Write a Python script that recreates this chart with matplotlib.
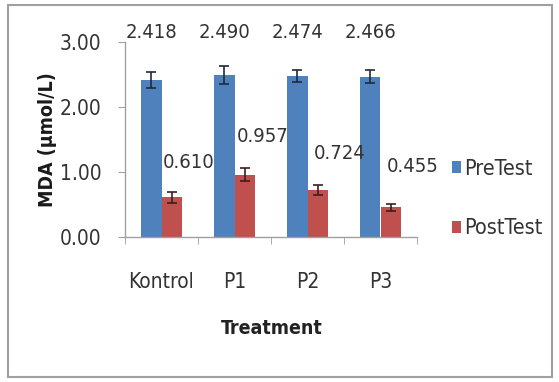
import matplotlib
matplotlib.use("Agg")
import matplotlib.pyplot as plt
import numpy as np
from matplotlib.patches import Rectangle

categories = ["Kontrol", "P1", "P2", "P3"]
pretest = [2.418, 2.490, 2.474, 2.466]
posttest = [0.610, 0.957, 0.724, 0.455]
pre_err = [0.12, 0.14, 0.09, 0.10]
post_err = [0.08, 0.10, 0.08, 0.06]
pre_labels = ["2.418", "2.490", "2.474", "2.466"]
post_labels = ["0.610", "0.957", "0.724", "0.455"]
yticks = [0.0, 1.0, 2.0, 3.0]
ytick_labels = ["0.00", "1.00", "2.00", "3.00"]

plt.rcParams["font.family"] = ["DejaVu Sans"]
plt.rcParams["font.stretch"] = "condensed"

fig = plt.figure(figsize=(5.59, 3.82), dpi=100)
fig.patch.set_facecolor("white")
fig.patches.append(Rectangle((8/559, 1-377/382), (552-8)/559, (377-5)/382,
                             transform=fig.transFigure, fill=False,
                             edgecolor="#a0a0a0", linewidth=1.5))

ax = fig.add_axes([125/559, 1-237/382, (417-125)/559, (237-42)/382])
x = np.arange(len(categories))
w = 0.28
blue = "#4F81BD"
red = "#C0504D"
ax.bar(x - w/2, pretest, w, color=blue, yerr=pre_err, capsize=3.5,
       error_kw=dict(ecolor="#1f2a3a", elinewidth=1.2, capthick=1.2), label="PreTest")
ax.bar(x + w/2, posttest, w, color=red, yerr=post_err, capsize=3.5,
       error_kw=dict(ecolor="#3a1f1f", elinewidth=1.2, capthick=1.2), label="PostTest")

ax.set_xlim(-0.5, 3.5)
ax.set_ylim(0, 3.0)
ax.set_yticks(yticks)
ax.set_yticklabels(ytick_labels)
ax.set_xticks(x)
ax.set_xticklabels(categories)
ax.set_xticks(np.arange(-0.5, 4.0, 1.0), minor=True)
ax.tick_params(axis="x", which="major", length=0, pad=25, labelsize=15, colors="#333333")
ax.tick_params(axis="x", which="minor", length=5, color="#a0a0a0", direction="out")
ax.tick_params(axis="y", length=5, color="#a0a0a0", pad=12, labelsize=15, labelcolor="#333333")
for s in ["top", "right"]:
    ax.spines[s].set_visible(False)
for s in ["left", "bottom"]:
    ax.spines[s].set_color("#a0a0a0")
    ax.spines[s].set_linewidth(1.0)

for i, v in enumerate(pretest):
    ax.text(i - w/2, 3.15, pre_labels[i], ha="center", va="center", fontsize=14.5,
            color="#333333", clip_on=False)
post_label_offsets = [(0.23, 1.14), (0.25, 1.54), (0.30, 1.29), (0.30, 1.08)]
for i, v in enumerate(posttest):
    dx, yy = post_label_offsets[i]
    ax.text(i + w/2 + dx, yy, post_labels[i], ha="center", va="center", fontsize=14.5,
            color="#333333", clip_on=False)

ax.set_ylabel("MDA (μmol/L)", fontsize=14, fontweight="bold", color="#1a1a1a")
ax.yaxis.set_label_coords(-0.232, 0.5)
ax.set_xlabel("Treatment", fontsize=14, fontweight="bold", color="#222222")
ax.xaxis.set_label_coords((272-125)/292, -(319-237)/195)

leg = fig.legend(loc="upper left", bbox_to_anchor=(443/559, 1-150/382),
                 frameon=False, fontsize=15.5, handlelength=0.45, handleheight=0.45,
                 handletextpad=0.15, labelspacing=1.85, borderaxespad=0)
for t in leg.get_texts():
    t.set_color("#333333")

fig.savefig("out.png", dpi=100)
